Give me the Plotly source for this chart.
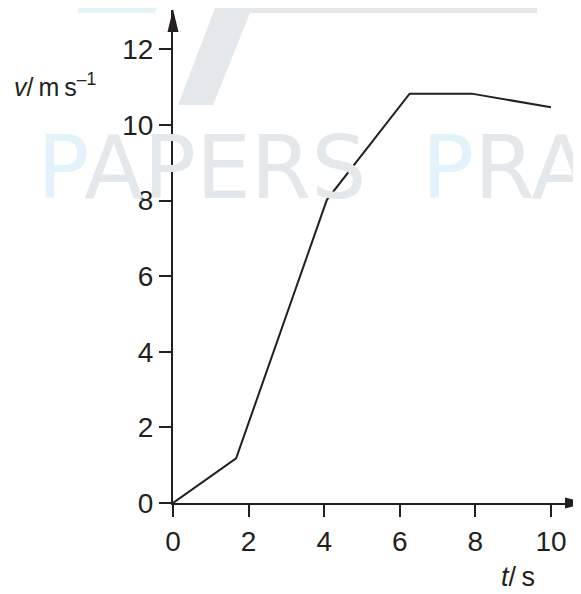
import plotly.graph_objects as go

# velocity-time data
t_vals = [0, 1.67, 4.07, 6.26, 7.9, 9.4, 10.0]
v_vals = [0, 1.18, 8.02, 10.83, 10.83, 10.58, 10.47]

x_ticks = [0, 2, 4, 6, 8, 10]
y_ticks = [0, 2, 4, 6, 8, 10, 12]

INK = "#231f20"
OFF = 8  # page body margin, figure starts 8px in
W, H = 581 - OFF, 594 - OFF
L, R, T, B = 165, 1, 2, 91
PW, PH = W - L - R, H - T - B
PX_PER_UNIT = 37.8


def px_to_paper(px, py):
    # px, py are page pixels as measured on the reference
    return (px - OFF - L) / PW, (T + PH - (py - OFF)) / PH


def poly(points):
    pts = [px_to_paper(*p) for p in points]
    return "M" + " L".join(f"{x:.4f},{y:.4f}" for x, y in pts) + " Z"


fig = go.Figure()

fig.add_trace(
    go.Scatter(
        x=t_vals,
        y=v_vals,
        mode="lines",
        line=dict(color=INK, width=2),
        showlegend=False,
        hoverinfo="skip",
    )
)

# faint watermark logo behind the chart
fig.add_shape(
    type="path",
    xref="paper",
    yref="paper",
    path=poly([(78, 0), (160, 0), (155, 13), (78, 13)]),
    fillcolor="#e3f3f9",
    line_width=0,
    layer="below",
)
fig.add_shape(
    type="path",
    xref="paper",
    yref="paper",
    path=poly([(218, 0), (537, 0), (537, 13), (250, 13), (213, 105), (178, 105)]),
    fillcolor="#e4e8eb",
    line_width=0,
    layer="below",
)
wx, wy = px_to_paper(35, 168)
fig.add_annotation(
    xref="paper",
    yref="paper",
    x=wx,
    y=wy,
    xanchor="left",
    yanchor="middle",
    showarrow=False,
    text=(
        "<span style='color:#e3f3f9'>P</span>"
        "<span style='color:#e4e8eb'>APERS\u00a0\u00a0</span>"
        "<span style='color:#e3f3f9'>P</span>"
        "<span style='color:#e4e8eb'>RACTICE</span>"
    ),
    font=dict(family="DejaVu Sans", size=87, color="#e4e8eb"),
)

# arrowheads on both axes
fig.add_shape(
    type="path",
    xref="paper",
    yref="paper",
    xsizemode="pixel",
    ysizemode="pixel",
    xanchor=1,
    yanchor=0,
    path="M8,0 L-15,5.5 L-15,-5.5 Z",
    fillcolor=INK,
    line_width=0,
)
fig.add_shape(
    type="path",
    xref="paper",
    yref="paper",
    xsizemode="pixel",
    ysizemode="pixel",
    xanchor=0,
    yanchor=1,
    path="M0,1 L-5.5,-22 L5.5,-22 Z",
    fillcolor=INK,
    line_width=0,
)

# axis titles
vx, _ = px_to_paper(12, 85)
fig.add_annotation(
    xref="paper",
    yref="y",
    x=vx,
    y=11.07,
    xanchor="left",
    yanchor="middle",
    showarrow=False,
    text="<i>v</i>/\u2009m\u2009s<sup>\u20131</sup>",
    font=dict(family="Arial", size=25, color=INK),
)
_, ty = px_to_paper(0, 577)
fig.add_annotation(
    xref="x",
    yref="paper",
    x=9.14,
    y=ty,
    xanchor="center",
    yanchor="middle",
    showarrow=False,
    text="<i>t</i>/\u2009s",
    font=dict(family="Arial", size=27, color=INK),
)

axis_style = dict(
    showline=True,
    linecolor=INK,
    linewidth=2,
    ticks="outside",
    ticklen=12,
    tickwidth=2,
    tickcolor=INK,
    showgrid=False,
    zeroline=False,
    tickfont=dict(family="Arial", size=28, color=INK),
    fixedrange=True,
)

fig.update_xaxes(range=[0, PW / PX_PER_UNIT], tickvals=x_ticks, **axis_style)
fig.update_yaxes(range=[0, PH / PX_PER_UNIT], tickvals=y_ticks, **axis_style)

fig.update_layout(
    width=W,
    height=H,
    margin=dict(l=L, r=R, t=T, b=B, pad=0),
    paper_bgcolor="white",
    plot_bgcolor="rgba(0,0,0,0)",
    showlegend=False,
)

fig.write_html("out.html")
